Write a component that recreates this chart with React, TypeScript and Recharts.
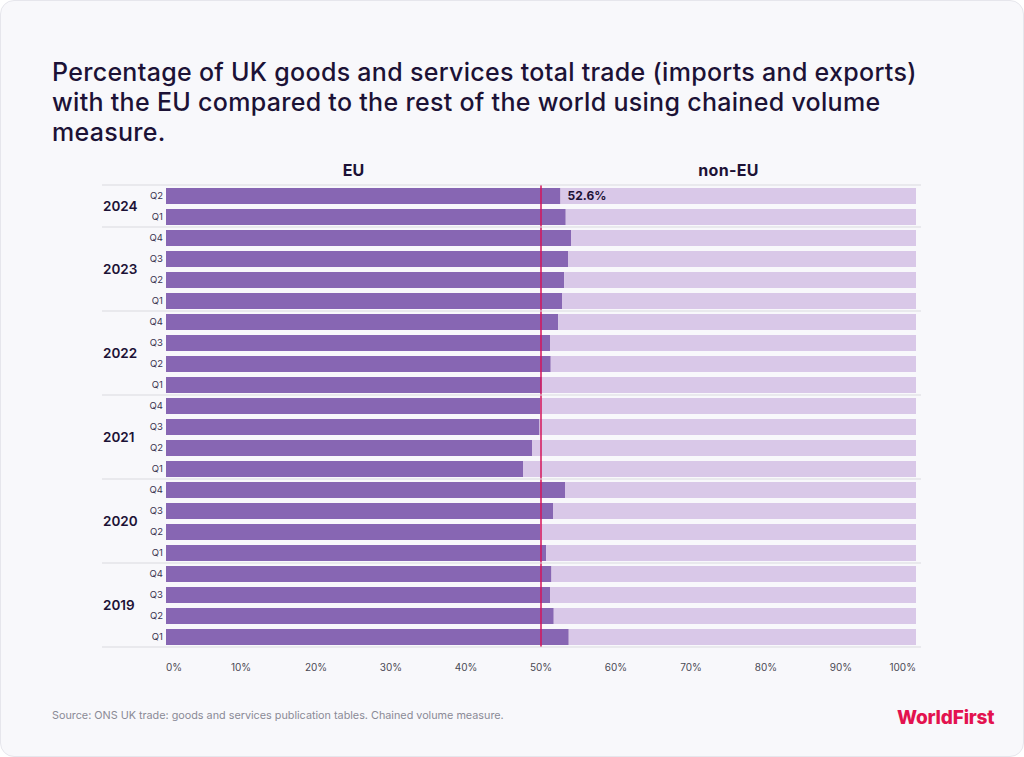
import React from 'react';
import { BarChart, Bar, XAxis, YAxis, ReferenceLine, LabelList } from 'recharts';

const periods = [
  '2024 Q2', '2024 Q1',
  '2023 Q4', '2023 Q3', '2023 Q2', '2023 Q1',
  '2022 Q4', '2022 Q3', '2022 Q2', '2022 Q1',
  '2021 Q4', '2021 Q3', '2021 Q2', '2021 Q1',
  '2020 Q4', '2020 Q3', '2020 Q2', '2020 Q1',
  '2019 Q4', '2019 Q3', '2019 Q2', '2019 Q1',
];
const quarterLabels = [
  'Q2', 'Q1',
  'Q4', 'Q3', 'Q2', 'Q1',
  'Q4', 'Q3', 'Q2', 'Q1',
  'Q4', 'Q3', 'Q2', 'Q1',
  'Q4', 'Q3', 'Q2', 'Q1',
  'Q4', 'Q3', 'Q2', 'Q1',
];
const yearLabels = ['2024', '2023', '2022', '2021', '2020', '2019'];
const quartersPerYear = [2, 4, 4, 4, 4, 4];

const euShare = [
  52.6, 53.3,
  54.0, 53.6, 53.1, 52.8,
  52.3, 51.2, 51.3, 50.1,
  49.9, 49.8, 48.8, 47.6,
  53.2, 51.6, 49.9, 50.7,
  51.4, 51.2, 51.7, 53.7,
];
const nonEuShare = [
  47.4, 46.7,
  46.0, 46.4, 46.9, 47.2,
  47.7, 48.8, 48.7, 49.9,
  50.1, 50.2, 51.2, 52.4,
  46.8, 48.4, 50.1, 49.3,
  48.6, 48.8, 48.3, 46.3,
];
const xTicks = [0, 10, 20, 30, 40, 50, 60, 70, 80, 90, 100];
const highlightLabel = '52.6%';

const data = periods.map((p, i) => ({
  period: p,
  quarter: quarterLabels[i],
  eu: euShare[i],
  nonEu: nonEuShare[i],
}));

// year group start indices
const groupStarts: number[] = [];
{
  let acc = 0;
  quartersPerYear.forEach((n) => {
    groupStarts.push(acc);
    acc += n;
  });
}

const CHART_W = 1024;
const CHART_H = 757;
const M_TOP = 185;
const M_BOTTOM = 80;
const X_AXIS_H = 30;
const Y_AXIS_W = 166;
const M_RIGHT = 108;
const PLOT_H = CHART_H - M_TOP - M_BOTTOM - X_AXIS_H;
const ROW_H = PLOT_H / periods.length;

const DARK = '#1c1236';
const FONT = "Inter, 'Open Sans', sans-serif";

const YTick = (props: any) => {
  const { x, y, index } = props;
  const gi = groupStarts.indexOf(index);
  const isLast = index === periods.length - 1;
  return (
    <g>
      {gi >= 0 && (
        <line x1={102} x2={921} y1={y - ROW_H / 2} y2={y - ROW_H / 2} stroke="#d9d9df" strokeWidth={1.2} />
      )}
      {isLast && (
        <line x1={102} x2={921} y1={y + ROW_H / 2} y2={y + ROW_H / 2} stroke="#d9d9df" strokeWidth={1.2} />
      )}
      <text x={x} y={y} dy="0.35em" textAnchor="end" fontSize={9.5} fill="#3a3450" fontFamily={FONT}>
        {quarterLabels[index]}
      </text>
      {gi >= 0 && (
        <text
          x={103}
          y={y + ((quartersPerYear[gi] - 1) / 2) * ROW_H}
          dy="0.35em"
          textAnchor="start"
          fontSize={13.5}
          fontWeight={600}
          fill={DARK}
          fontFamily={FONT}
        >
          {yearLabels[gi]}
        </text>
      )}
    </g>
  );
};

const XTick = (props: any) => {
  const { x, y, payload, index } = props;
  const anchor = index === 0 ? 'start' : index === xTicks.length - 1 ? 'end' : 'middle';
  return (
    <text x={x} y={y} dy="0.71em" textAnchor={anchor} fontSize={10} fill="#4a4a55" fontFamily={FONT}>
      {`${payload.value}%`}
    </text>
  );
};

const HighlightLabel = (props: any) => {
  const { x, y, width, height, index } = props;
  if (index !== 0) return null;
  return (
    <text
      x={x + width + 7}
      y={y + height / 2}
      dy="0.35em"
      fontSize={12}
      fontWeight={700}
      fill={DARK}
      fontFamily={FONT}
    >
      {highlightLabel}
    </text>
  );
};

export default function App() {
  return (
    <div
      style={{
        position: 'absolute',
        left: 0,
        top: 0,
        width: 1024,
        height: 757,
        background: '#ffffff',
        fontFamily: FONT,
      }}
    >
      <div
        style={{
          position: 'absolute',
          left: 0,
          top: 0,
          width: 1024,
          height: 757,
          boxSizing: 'border-box',
          border: '1px solid #e6e6ec',
          borderRadius: 14,
          background: '#f8f8fb',
        }}
      />
      <div
        style={{
          position: 'absolute',
          left: 52,
          top: 57,
          width: 940,
          fontSize: 25,
          lineHeight: '30px',
          fontWeight: 500,
          color: DARK,
          letterSpacing: '0.3px',
          whiteSpace: 'nowrap',
        }}
      >
        Percentage of UK goods and services total trade (imports and exports)
        <br />
        with the EU compared to the rest of the world using chained volume
        <br />
        measure.
      </div>
      <div
        style={{
          position: 'absolute',
          left: 166,
          width: 375,
          top: 160,
          textAlign: 'center',
          fontSize: 16,
          fontWeight: 700,
          color: DARK,
        }}
      >
        EU
      </div>
      <div
        style={{
          position: 'absolute',
          left: 541,
          width: 375,
          top: 160,
          textAlign: 'center',
          fontSize: 16,
          fontWeight: 700,
          color: DARK,
          letterSpacing: '0.3px',
        }}
      >
        non-EU
      </div>
      <div style={{ position: 'absolute', left: 0, top: 0 }}>
        <BarChart
          width={CHART_W}
          height={CHART_H}
          data={data}
          layout="vertical"
          margin={{ top: M_TOP, right: M_RIGHT, bottom: M_BOTTOM, left: 0 }}
          barSize={16}
        >
          <XAxis
            type="number"
            domain={[0, 100]}
            ticks={xTicks}
            axisLine={false}
            tickLine={false}
            tickSize={0}
            tickMargin={17}
            height={X_AXIS_H}
            tick={<XTick />}
            interval={0}
          />
          <YAxis
            type="category"
            dataKey="period"
            width={Y_AXIS_W}
            axisLine={false}
            tickLine={false}
            tickSize={0}
            tickMargin={3}
            tick={<YTick />}
            interval={0}
          />
          <Bar dataKey="eu" stackId="a" fill="#8766b3" isAnimationActive={false}>
            <LabelList dataKey="eu" content={<HighlightLabel />} />
          </Bar>
          <Bar dataKey="nonEu" stackId="a" fill="#d9c8e8" isAnimationActive={false} />
          <ReferenceLine x={50} stroke="#d4145a" strokeWidth={1.5} />
        </BarChart>
      </div>
      <div
        style={{
          position: 'absolute',
          left: 52,
          top: 709,
          fontSize: 10.8,
          color: '#8a8a96',
        }}
      >
        Source: ONS UK trade: goods and services publication tables. Chained volume measure.
      </div>
      <div
        style={{
          position: 'absolute',
          left: 897,
          top: 706,
          fontSize: 19,
          fontWeight: 800,
          color: '#e3124f',
          letterSpacing: '-0.2px',
        }}
      >
        WorldFirst
      </div>
    </div>
  );
}
